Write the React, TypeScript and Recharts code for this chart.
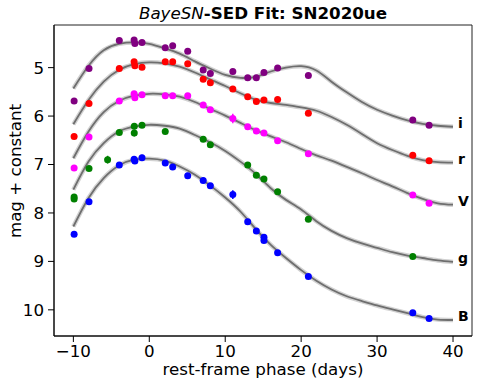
import {
  ComposedChart,
  Line,
  Scatter,
  ErrorBar,
  XAxis,
  YAxis,
  ReferenceArea,
  ReferenceDot,
} from "recharts";

// model curves (BayeSN fit), sampled every 2 days
const curvePhase = [-10, -8, -6, -4, -2, 0, 2, 4, 6, 8, 10, 12, 14, 16, 18, 20, 22, 24, 26, 28, 30, 32, 34, 36, 38, 40];
const curveI = [5.43, 4.96, 4.64, 4.51, 4.48, 4.51, 4.6, 4.71, 4.87, 5.02, 5.15, 5.21, 5.19, 5.08, 5.0, 4.97, 5.06, 5.29, 5.51, 5.71, 5.87, 5.99, 6.09, 6.16, 6.2, 6.22];
const curveR = [6.17, 5.67, 5.29, 5.05, 4.93, 4.89, 4.91, 4.98, 5.1, 5.24, 5.38, 5.53, 5.66, 5.73, 5.77, 5.82, 5.89, 6.02, 6.18, 6.37, 6.56, 6.7, 6.82, 6.91, 6.95, 6.96];
const curveV = [6.87, 6.32, 5.92, 5.69, 5.58, 5.54, 5.55, 5.6, 5.71, 5.85, 5.99, 6.14, 6.29, 6.42, 6.54, 6.68, 6.81, 6.92, 7.05, 7.18, 7.32, 7.45, 7.59, 7.71, 7.8, 7.83];
const curveG = [7.52, 6.94, 6.56, 6.32, 6.22, 6.18, 6.2, 6.26, 6.39, 6.54, 6.72, 6.94, 7.19, 7.49, 7.73, 7.93, 8.17, 8.37, 8.52, 8.63, 8.72, 8.81, 8.88, 8.93, 8.98, 9.01];
const curveB = [8.28, 7.69, 7.28, 7.02, 6.9, 6.88, 6.92, 7.04, 7.21, 7.43, 7.68, 7.97, 8.33, 8.66, 8.93, 9.18, 9.4, 9.58, 9.72, 9.82, 9.91, 9.99, 10.07, 10.15, 10.2, 10.21];

// photometry
const iPhase = [-9.9, -7.94, -3.95, -2.0, -1.9, -0.96, 2.1, 3.08, 5.06, 7.1, 8.04, 11.0, 12.96, 14.1, 15.1, 16.9, 20.95, 34.7, 36.85];
const iMag = [5.69, 5.02, 4.44, 4.43, 4.5, 4.48, 4.59, 4.55, 4.66, 5.05, 5.12, 5.08, 5.21, 5.21, 5.1, 5.01, 5.16, 6.08, 6.19];
const iErr = [0.02, 0.02, 0.02, 0.02, 0.02, 0.02, 0.02, 0.02, 0.02, 0.02, 0.02, 0.03, 0.02, 0.02, 0.02, 0.02, 0.02, 0.02, 0.02];

const rPhase = [-9.9, -7.94, -3.95, -2.0, -1.9, -0.96, 2.1, 3.08, 5.06, 7.1, 8.04, 11.0, 12.96, 14.1, 15.1, 16.9, 20.95, 34.7, 36.85];
const rMag = [6.42, 5.74, 5.02, 4.88, 4.96, 4.99, 4.88, 4.88, 4.92, 5.24, 5.31, 5.44, 5.6, 5.7, 5.67, 5.66, 5.94, 6.81, 6.92];
const rErr = [0.02, 0.02, 0.02, 0.02, 0.02, 0.02, 0.02, 0.02, 0.02, 0.02, 0.02, 0.03, 0.02, 0.02, 0.02, 0.02, 0.02, 0.02, 0.02];

const vPhase = [-9.9, -7.94, -3.95, -2.0, -1.9, -0.96, 2.1, 3.08, 5.06, 7.1, 8.04, 11.0, 12.96, 14.1, 15.1, 16.9, 20.95, 34.7, 36.85];
const vMag = [7.07, 6.43, 5.69, 5.54, 5.62, 5.56, 5.58, 5.58, 5.58, 5.77, 5.87, 6.05, 6.22, 6.31, 6.35, 6.51, 6.78, 7.63, 7.8];
const vErr = [0.02, 0.02, 0.02, 0.02, 0.02, 0.02, 0.02, 0.02, 0.02, 0.02, 0.02, 0.1, 0.02, 0.02, 0.02, 0.02, 0.02, 0.02, 0.02];

const gPhase = [-9.9, -9.9, -7.94, -5.49, -3.95, -1.98, -1.98, -0.96, 2.1, 7.1, 8.04, 12.96, 14.1, 15.1, 16.9, 20.95, 34.7];
const gMag = [7.67, 7.71, 7.08, 6.9, 6.34, 6.21, 6.35, 6.19, 6.32, 6.48, 6.59, 7.01, 7.22, 7.3, 7.56, 8.13, 8.9];
const gErr = [0.02, 0.02, 0.02, 0.08, 0.02, 0.02, 0.07, 0.02, 0.02, 0.02, 0.02, 0.02, 0.02, 0.02, 0.02, 0.02, 0.02];

const bPhase = [-9.9, -7.94, -3.95, -2.0, -1.9, -0.96, 2.1, 3.08, 5.06, 7.1, 8.04, 11.0, 12.96, 14.1, 15.1, 15.1, 16.9, 20.95, 34.7, 36.85];
const bMag = [8.44, 7.77, 7.01, 6.89, 6.93, 6.86, 6.97, 7.05, 7.23, 7.33, 7.44, 7.62, 8.18, 8.37, 8.5, 8.57, 8.82, 9.31, 10.06, 10.18];
const bErr = [0.02, 0.02, 0.02, 0.02, 0.02, 0.06, 0.02, 0.02, 0.02, 0.02, 0.02, 0.09, 0.02, 0.02, 0.02, 0.02, 0.02, 0.02, 0.02, 0.02];

const xTicks = [-10, 0, 10, 20, 30, 40];
const yTicks = [5, 6, 7, 8, 9, 10];
const xDomain = [-12.55, 42.5];
const yDomain = [4.12, 10.54];

const FONT = "DejaVu Sans";
const FS = 16.7;

const curveRows = curvePhase.map((p, k) => ({
  phase: p,
  i: curveI[k],
  r: curveR[k],
  V: curveV[k],
  g: curveG[k],
  B: curveB[k],
}));

function pts(phase: number[], mag: number[], err: number[]) {
  return phase.map((p, k) => ({ phase: p, mag: mag[k], err: err[k] }));
}

const bands = [
  { key: "i", color: "#800080", data: pts(iPhase, iMag, iErr), end: curveI[curveI.length - 1] },
  { key: "r", color: "#ff0000", data: pts(rPhase, rMag, rErr), end: curveR[curveR.length - 1] },
  { key: "V", color: "#ff00ff", data: pts(vPhase, vMag, vErr), end: curveV[curveV.length - 1] },
  { key: "g", color: "#008000", data: pts(gPhase, gMag, gErr), end: curveG[curveG.length - 1] },
  { key: "B", color: "#0000ff", data: pts(bPhase, bMag, bErr), end: curveB[curveB.length - 1] },
];

const minus = (v: number) => String(v).replace("-", "\u2212");

export default function App() {
  return (
    <div
      style={{
        position: "absolute",
        left: 0,
        top: 0,
        width: 479,
        height: 386,
        background: "#fff",
        fontFamily: FONT,
      }}
    >
      <div
        style={{
          position: "absolute",
          left: 54,
          width: 418,
          top: 3,
          textAlign: "center",
          fontSize: FS,
          lineHeight: "20px",
          color: "#000",
        }}
      >
        <i>BayeSN</i>
        <b>-SED Fit: SN2020ue</b>
      </div>
      <ComposedChart
        width={479}
        height={386}
        data={curveRows}
        margin={{ top: 25, right: 7, left: 0, bottom: 0 }}
      >
        <XAxis
          dataKey="phase"
          type="number"
          domain={xDomain}
          ticks={xTicks}
          allowDataOverflow
          height={50}
          tickSize={6}
          tickMargin={3}
          tickFormatter={minus}
          stroke="#000"
          tick={{ fill: "#000", fontSize: FS, fontFamily: FONT }}
          label={{
            value: "rest-frame phase (days)",
            position: "insideBottom",
            offset: 11,
            fill: "#000",
            fontSize: FS,
            fontFamily: FONT,
          }}
        />
        <YAxis
          type="number"
          domain={yDomain}
          ticks={yTicks}
          reversed
          allowDataOverflow
          width={54}
          tickSize={6}
          tickMargin={4}
          stroke="#000"
          tick={{ fill: "#000", fontSize: FS, fontFamily: FONT }}
          label={{
            content: () => (
              <text
                x={15}
                y={171}
                transform="rotate(-90 15 171)"
                textAnchor="middle"
                dominantBaseline="central"
                fontSize={FS}
                fontFamily={FONT}
                fill="#000"
              >
                mag + constant
              </text>
            ),
          }}
        />
        {bands.map((b) => (
          <Line
            key={"band-" + b.key}
            dataKey={b.key}
            type="natural"
            stroke="#d2d2d2"
            strokeWidth={4.5}
            dot={false}
            activeDot={false}
            isAnimationActive={false}
          />
        ))}
        {bands.map((b) => (
          <Line
            key={"line-" + b.key}
            dataKey={b.key}
            type="natural"
            stroke="#6e6e6e"
            strokeWidth={1.8}
            dot={false}
            activeDot={false}
            isAnimationActive={false}
          />
        ))}
        {bands.map((b) => (
          <Scatter
            key={"pts-" + b.key}
            data={b.data}
            dataKey="mag"
            fill={b.color}
            isAnimationActive={false}
            shape={(p: any) => <circle cx={p.cx} cy={p.cy} r={3.5} fill={b.color} />}
          >
            <ErrorBar dataKey="err" direction="y" width={0} stroke={b.color} strokeWidth={1.5} />
          </Scatter>
        ))}
        {bands.map((b) => (
          <ReferenceDot
            key={"lab-" + b.key}
            x={40}
            y={b.end}
            ifOverflow="visible"
            shape={(p: any) => (
              <text
                x={p.cx + 5}
                y={p.cy + 1}
                fontSize={14}
                fontWeight="bold"
                fontFamily={FONT}
                fill="#000"
              >
                {b.key}
              </text>
            )}
          />
        ))}
        <ReferenceArea
          x1={xDomain[0]}
          x2={xDomain[1]}
          y1={yDomain[0]}
          y2={yDomain[1]}
          fill="none"
          stroke="#222"
          strokeWidth={1}
          ifOverflow="visible"
        />
      </ComposedChart>
    </div>
  );
}
